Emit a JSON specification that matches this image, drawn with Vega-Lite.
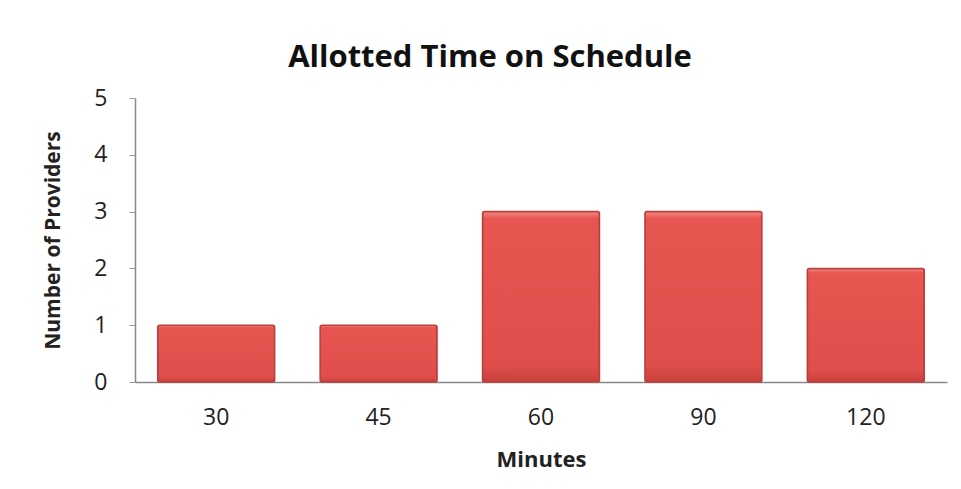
{
  "$schema": "https://vega.github.io/schema/vega-lite/v6.json",
  "autosize": {"type": "none"},
  "width": 812,
  "height": 284,
  "padding": {"left": 135, "top": 98, "right": 14, "bottom": 107},
  "background": "white",
  "title": {
    "text": "Allotted Time on Schedule",
    "font": "Open Sans",
    "fontSize": 31,
    "fontWeight": "bold",
    "color": "#111111",
    "anchor": "middle",
    "dx": -51,
    "offset": 13
  },
  "data": {
    "values": [
      {"minutes": "30", "providers": 1},
      {"minutes": "45", "providers": 1},
      {"minutes": "60", "providers": 3},
      {"minutes": "90", "providers": 3},
      {"minutes": "120", "providers": 2}
    ]
  },
  "mark": {
    "type": "bar",
    "color": {
      "gradient": "linear",
      "x1": 0, "y1": 0, "x2": 0, "y2": 1,
      "stops": [
        {"offset": 0, "color": "#F08A86"},
        {"offset": 0.04, "color": "#E85652"},
        {"offset": 0.9, "color": "#E04E4B"},
        {"offset": 1, "color": "#C8403D"}
      ]
    },
    "stroke": "#B8403D",
    "strokeWidth": 1.5,
    "cornerRadius": 2
  },
  "encoding": {
    "x": {
      "field": "minutes",
      "type": "ordinal",
      "sort": ["30", "45", "60", "90", "120"],
      "scale": {"paddingInner": 0.28, "paddingOuter": 0.14},
      "axis": {
        "title": "Minutes",
        "titleFont": "Open Sans",
        "titleFontSize": 22,
        "titleFontWeight": "bold",
        "titleColor": "#222222",
        "titlePadding": 20,
        "labelFont": "Open Sans",
        "labelFontSize": 23,
        "labelColor": "#222222",
        "labelAngle": 0,
        "labelPadding": 24,
        "ticks": false,
        "domainColor": "#888888",
        "domainWidth": 1.5
      }
    },
    "y": {
      "field": "providers",
      "type": "quantitative",
      "scale": {"domain": [0, 5]},
      "axis": {
        "title": "Number of Providers",
        "titleFont": "Open Sans",
        "titleFontSize": 21,
        "titleFontWeight": "bold",
        "titleColor": "#222222",
        "titlePadding": 30,
        "labelFont": "Open Sans",
        "labelFontSize": 23,
        "labelColor": "#222222",
        "labelPadding": 22,
        "labelOverlap": false,
        "values": [0, 1, 2, 3, 4, 5],
        "tickColor": "#999999",
        "tickSize": 6,
        "grid": false,
        "domainColor": "#888888",
        "domainWidth": 1.5
      }
    }
  },
  "config": {
    "view": {"stroke": null}
  }
}
